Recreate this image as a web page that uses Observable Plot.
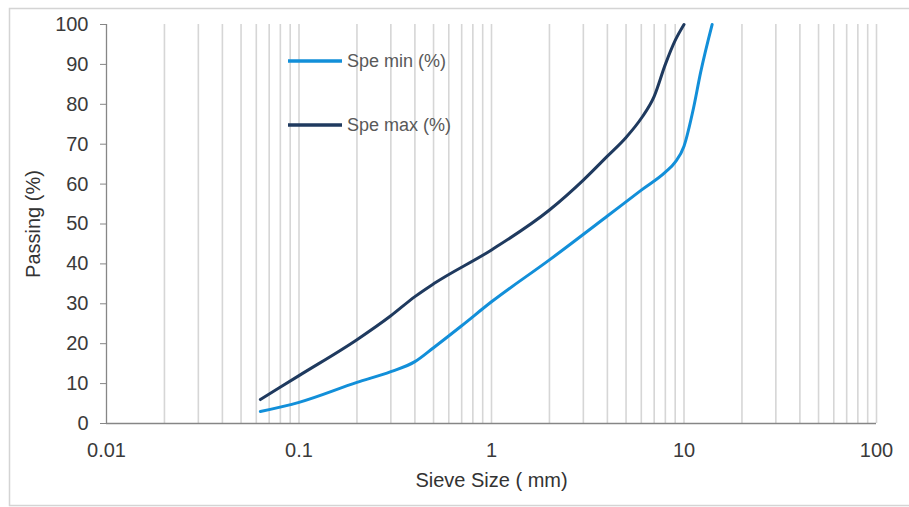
<!DOCTYPE html>
<html>
<head>
<meta charset="utf-8">
<script src="https://cdn.jsdelivr.net/npm/d3@7"></script>
<script src="https://cdn.jsdelivr.net/npm/@observablehq/plot@0.6"></script>
<style>
  html, body { margin: 0; padding: 0; background: #fff; }
  #chart { position: relative; width: 909px; height: 507px; }
</style>
</head>
<body>
<div id="chart"></div>
<script>
// ---- Data ----
const seriesNames = ["Spe min (%)", "Spe max (%)"];
const seriesColors = ["#128fd9", "#1f3a5f"];

const sizesMin = [0.063, 0.1, 0.2, 0.3, 0.4, 0.5, 0.7, 1, 2, 4, 6, 8, 9, 10, 11.2, 12.2, 14];
const passMin  = [3, 5.3, 10.3, 13, 15.5, 19, 24.5, 30.5, 41, 52, 58.5, 63, 65.5, 69.5, 79, 88, 100];

const sizesMax = [0.063, 0.1, 0.2, 0.3, 0.4, 0.5, 1, 2, 3, 4, 5, 6, 7, 8, 9, 10];
const passMax  = [6, 12, 21, 27, 31.8, 35, 43.5, 53.5, 61, 67, 71.7, 76.5, 82, 90, 96, 100];

const xTicks = [0.01, 0.1, 1, 10, 100];
const yTicks = [0, 10, 20, 30, 40, 50, 60, 70, 80, 90, 100];
const xTitle = "Sieve Size ( mm)";
const yTitle = "Passing (%)";

// minor gridlines at 2..10 × each decade
const decades = [0.01, 0.1, 1, 10];
const gridX = decades.flatMap(d => [2,3,4,5,6,7,8,9,10].map(k => +(d * k).toPrecision(3)));

const rows = [
  ...sizesMin.map((s, i) => ({series: seriesNames[0], size: s, pass: passMin[i]})),
  ...sizesMax.map((s, i) => ({series: seriesNames[1], size: s, pass: passMax[i]}))
];

const mL = 106, mR = 33, mT = 24, mB = 84, W = 909, H = 507;

const chart = Plot.plot({
  width: W, height: H,
  marginLeft: mL, marginRight: mR, marginTop: mT, marginBottom: mB,
  style: {fontFamily: "'Liberation Sans', Arial, sans-serif", fontSize: "20px", color: "#404040", background: "transparent"},
  x: {type: "log", domain: [0.01, 100]},
  y: {domain: [0, 100]},
  color: {domain: seriesNames, range: seriesColors},
  marks: [
    Plot.ruleX(gridX, {stroke: "#d6d6d6", strokeWidth: 1.6}),
    Plot.ruleX([0.01], {stroke: "#868686", strokeWidth: 1.3}),
    Plot.ruleY([0], {stroke: "#868686", strokeWidth: 1.3}),
    Plot.axisY({ticks: yTicks, tickSize: 6, tickPadding: 12, stroke: "#868686", fill: "#3a3a3a", label: null, fontSize: 20}),
    Plot.axisX({ticks: xTicks, tickSize: 0, tickPadding: 19, tickFormat: d => String(d), fill: "#3a3a3a", label: null, fontSize: 20}),
    Plot.line(rows, {x: "size", y: "pass", z: "series", stroke: "series", strokeWidth: 3, curve: "monotone-x"}),
    Plot.text([xTitle], {frameAnchor: "bottom", dy: 63, fontSize: 20, fill: "#333"}),
    Plot.text([yTitle], {frameAnchor: "left", textAnchor: "middle", rotate: -90, dx: -73, fontSize: 20, fill: "#333"})
  ]
});

const svg = d3.select(chart);
// outer light frame of the figure
svg.append("rect")
  .attr("x", 9.5).attr("y", 8.5).attr("width", W + 10).attr("height", 497)
  .attr("fill", "none").attr("stroke", "#d4d4d4").attr("stroke-width", 1.5);

// legend inside the plot area
const leg = svg.append("g")
  .attr("font-family", "'Liberation Sans', Arial, sans-serif")
  .attr("font-size", 18)
  .attr("text-anchor", "start");
seriesNames.forEach((name, i) => {
  const y = 61 + i * 64;
  leg.append("line").attr("x1", 288).attr("x2", 342).attr("y1", y).attr("y2", y)
    .attr("stroke", seriesColors[i]).attr("stroke-width", 3.5);
  leg.append("text").attr("x", 347).attr("y", y).attr("dy", "0.35em")
    .attr("text-anchor", "start")
    .attr("fill", "#595959").text(name);
});

document.getElementById("chart").appendChild(chart);
</script>
</body>
</html>
